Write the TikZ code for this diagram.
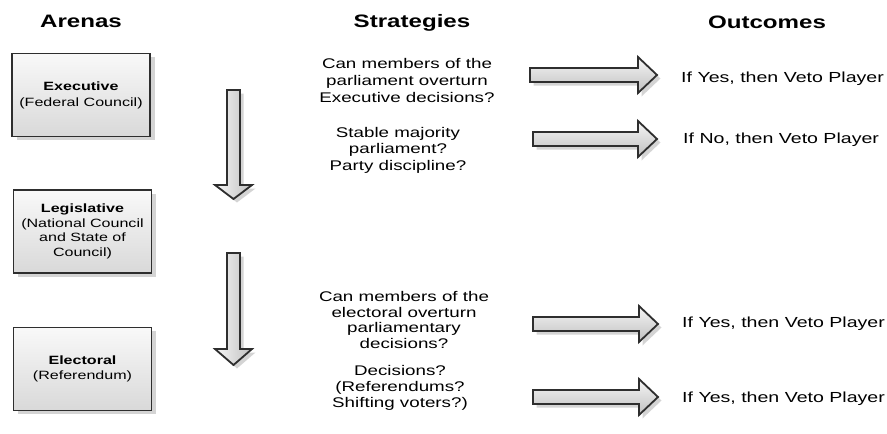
\documentclass[tikz,border=0pt]{standalone}
\usepackage{fontspec}
\setmainfont{Liberation Sans}[FakeStretch=1.34]
\usetikzlibrary{shadows}
\definecolor{edgec}{HTML}{2E2E2E}
\definecolor{shadc}{HTML}{ABABAB}
\tikzset{
  arena/.style={draw=edgec, line width=1.8pt, top color=white!95!gray, bottom color=gray!30,
    minimum width=138pt, minimum height=83pt, inner sep=0pt, align=center,
    drop shadow={shadow xshift=4.5pt, shadow yshift=-3.5pt, fill=shadc}},
  header/.style={font=\bfseries\fontsize{18}{20}\selectfont, anchor=base, inner sep=0pt},
  strat/.style={align=center, inner sep=0pt},
  outc/.style={anchor=base west, font=\fontsize{14.6}{17}\selectfont, inner sep=0pt},
  blockarrow/.style={draw=edgec, line width=1.8pt, line join=miter,
    drop shadow={shadow xshift=3.5pt, shadow yshift=-3.5pt, fill=shadc}},
}
\newcommand\myRightBlock[3]{%
  \path[blockarrow, top color=white!93!gray, bottom color=gray!50]
    (#1,#3-7) -- (#2-19,#3-7) -- (#2-19,#3-18) -- (#2,#3) -- (#2-19,#3+18)
    -- (#2-19,#3+7) -- (#1,#3+7) -- cycle;}
\newcommand\myDownBlock[4]{%
  \path[blockarrow, left color=white!93!gray, right color=gray!50]
    (#1-6.5,#2) -- (#1+6.5,#2) -- (#1+6.5,#3) -- (#1+18.5,#3) -- (#1,#4)
    -- (#1-18.5,#3) -- (#1-6.5,#3) -- cycle;}
\begin{document}
\begin{tikzpicture}[x=1pt, y=-1pt]
\useasboundingbox[fill=white] (0,0) rectangle (887,434);

% headers
\node[header] (hArenas) at (81,27) {Arenas};
\node[header] (hStrat) at (412,27) {Strategies};
\node[header] (hOut) at (767,28) {Outcomes};

% arenas
\node[arena, font=\fontsize{12}{16}\selectfont] (exec) at (81,95)
  {\textbf{Executive}\\(Federal Council)};
\node[arena, font=\fontsize{12}{14.5}\selectfont] (legis) at (82.5,231.5)
  {\textbf{Legislative}\\(National Council\\and State of\\Council)};
\node[arena, font=\fontsize{12}{14.5}\selectfont] (elect) at (82.5,369)
  {\textbf{Electoral}\\(Referendum)};

% down arrows
\myDownBlock{233.5}{90}{185}{199}
\myDownBlock{233.5}{253}{349}{365}

% strategies
\node[strat, font=\fontsize{14}{17}\selectfont] (s1) at (407,80)
  {Can members of the\\parliament overturn\\Executive decisions?};
\node[strat, font=\fontsize{14}{16.5}\selectfont] (s2) at (398,150)
  {Stable majority\\parliament?\\Party discipline?};
\node[strat, font=\fontsize{14}{15.5}\selectfont] (s3) at (404,320)
  {Can members of the\\electoral overturn\\parliamentary\\decisions?};
\node[strat, font=\fontsize{14}{16}\selectfont] (s4) at (400,387.5)
  {Decisions?\\(Referendums?\\Shifting voters?)};

% right arrows
\myRightBlock{530}{657}{75}
\myRightBlock{533}{657}{139}
\myRightBlock{533}{658}{324}
\myRightBlock{533}{658}{397}

% outcomes
\node[outc] (o1) at (681,82) {If Yes, then Veto Player};
\node[outc] (o2) at (683,143) {If No, then Veto Player};
\node[outc] (o3) at (682,327) {If Yes, then Veto Player};
\node[outc] (o4) at (682,402) {If Yes, then Veto Player};
\end{tikzpicture}
\end{document}
